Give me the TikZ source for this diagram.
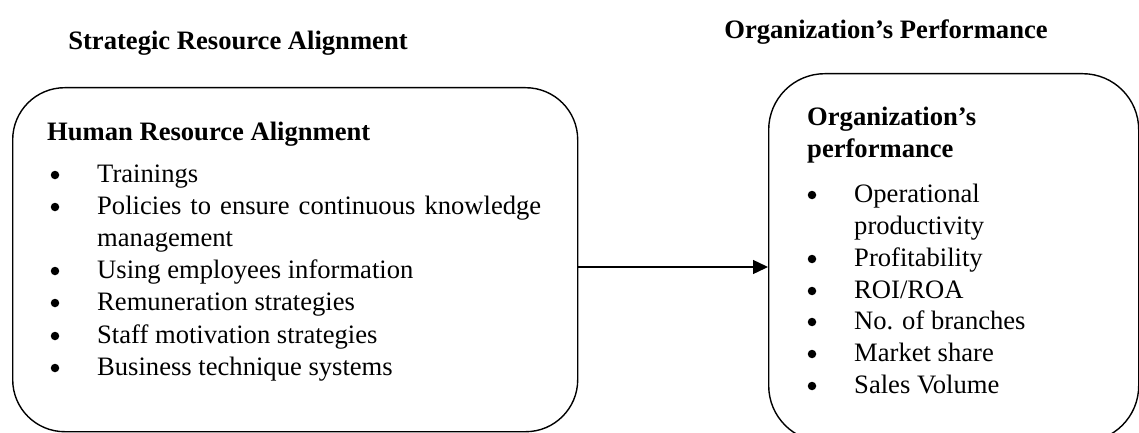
\documentclass[tikz,border=0pt]{standalone}
\usepackage{fontspec}
\setmainfont{Liberation Serif}
\usetikzlibrary{arrows.meta}
\begin{document}
\begin{tikzpicture}[x=1pt,y=-1pt,
  box/.style={draw,line width=1.4pt,anchor=north west,inner sep=0pt},
  txt/.style={anchor=base west,inner sep=0pt,font=\fontsize{26.6}{32}\selectfont},
  head/.style={txt,font=\fontsize{26.6}{32}\selectfont\bfseries},
  title/.style={anchor=base,inner sep=0pt,font=\fontsize{26.6}{32}\selectfont\bfseries},
  dot/.style={circle,fill,inner sep=0pt,minimum size=8.5pt},
  arr/.style={line width=1.4pt,-{Triangle[length=15pt,width=14pt]}}]
\useasboundingbox (0,0) rectangle (1139,433);
\clip (0,0) rectangle (1139,433);
% titles
\node[title] (t1) at (238,50) {Strategic Resource Alignment};
\node[title] (t2) at (886,39) {Organization’s Performance};
% boxes
\node[box,rounded corners=52pt,minimum width=565pt,minimum height=344pt] (L) at (12,87) {};
\node[box,rounded corners=56pt,minimum width=370pt,minimum height=368pt] (R) at (768,73) {};
% left content
\node[head] (lh) at (47,140) {Human Resource Alignment};
\foreach \y/\t [count=\i] in {182/Trainings,278/Using employees information,310/Remuneration strategies,343/Staff motivation strategies,375/Business technique systems}{
  \node[dot] (lb\i) at (55,\y-7) {};
  \node[txt] (lt\i) at (97,\y) {\t};
}
\node[dot] (lbp) at (55,207) {};
\node[txt] (ltp) at (97,214) {\makebox[444pt][s]{Policies to ensure continuous knowledge}};
\node[txt] (ltm) at (97,246) {management};
% right content
\node[head] (rh1) at (807,125) {Organization’s};
\node[head] (rh2) at (807,157) {performance};
\node[dot] (rbo) at (812,195) {};
\node[txt] (rto) at (854,202) {Operational};
\node[txt] (rtp) at (854,234) {productivity};
\foreach \y/\t [count=\i] in {266/Profitability,298/{ROI/ROA},329/No. of branches,361/Market share,393/Sales Volume}{
  \node[dot] (rb\i) at (812,\y-7) {};
  \node[txt] (rt\i) at (854,\y) {\t};
}
% arrow
\coordinate (ay) at (0,267);
\draw[arr] (L.east |- ay) -- (R.west |- ay);
\end{tikzpicture}
\end{document}
